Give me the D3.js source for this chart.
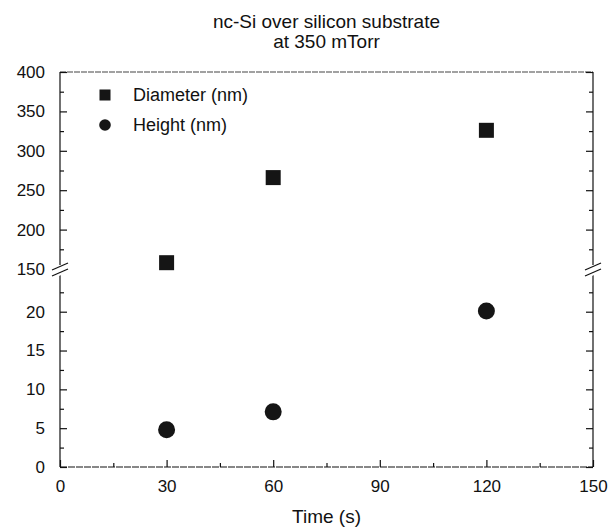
<!DOCTYPE html>
<html>
<head>
<meta charset="utf-8">
<script src="https://cdn.jsdelivr.net/npm/d3@7"></script>
<style>
  body { margin: 0; background: #fff; }
  text { font-family: "Liberation Sans", Arial, Helvetica, sans-serif; fill: #111; }
</style>
</head>
<body>
<div id="chart"></div>
<script>
// data
var times = [30, 60, 120];
var diameter = [158, 266, 326];   // nm, upper segment
var heights = [4.8, 7.1, 20.1];   // nm, lower segment

var xTicks = [0, 30, 60, 90, 120, 150];
var xMinor = [15, 45, 75, 105, 135];
var yUpperTicks = [150, 200, 250, 300, 350, 400];
var yUpperMinor = [175, 225, 275, 325, 375];
var yLowerTicks = [0, 5, 10, 15, 20];
var yLowerMinor = [2.5, 7.5, 12.5, 17.5, 22.5];

var legendLabels = ["Diameter (nm)", "Height (nm)"];
var titleLines = ["nc-Si over silicon substrate", "at 350 mTorr"];

const W = 609, H = 527;
const plotLeft = 60, plotRight = 593, plotTop = 72, plotBottom = 467;
const breakY = 269;

const svg = d3.select("#chart")
  .append("svg")
  .attr("width", W)
  .attr("height", H);

// scales
const x = d3.scaleLinear().domain([0, 150]).range([plotLeft, plotRight]);
const yLow = d3.scaleLinear().domain([0, 25.5]).range([plotBottom, breakY]);
const yUp = d3.scaleLinear().domain([150, 400]).range([breakY, plotTop]);

// frame lines (left / right split at the break)
const frame = svg.append("g").attr("stroke", "#111").attr("stroke-width", 1.2);
frame.append("line").attr("x1", plotLeft).attr("x2", plotRight).attr("y1", plotBottom).attr("y2", plotBottom)
  .attr("stroke-dasharray", "7,1");
frame.append("line").attr("x1", plotLeft).attr("x2", plotRight).attr("y1", plotTop).attr("y2", plotTop)
  .attr("stroke", "#444").attr("stroke-dasharray", "6,1");
[plotLeft, plotRight].forEach(function (px) {
  frame.append("line").attr("x1", px).attr("x2", px).attr("y1", plotTop).attr("y2", breakY - 4);
  frame.append("line").attr("x1", px).attr("x2", px).attr("y1", breakY + 4).attr("y2", plotBottom);
});

// helper for inward axes
function addAxis(axis, tx, ty) {
  const g = svg.append("g")
    .attr("transform", `translate(${tx},${ty})`)
    .call(axis);
  g.select(".domain").remove();
  g.selectAll("line").attr("stroke", "#111").attr("stroke-width", 1.2);
  g.selectAll("text")
    .style("font-size", "17px")
    .style("font-family", "'Liberation Sans', Arial, sans-serif");
  return g;
}

// x axis
addAxis(d3.axisBottom(x).tickValues(xTicks).tickSize(-7).tickPadding(13).tickFormat(d3.format("d")), 0, plotBottom);
addAxis(d3.axisBottom(x).tickValues(xMinor).tickSize(-4).tickFormat(""), 0, plotBottom);

// left y axes
addAxis(d3.axisLeft(yUp).tickValues(yUpperTicks).tickSize(-7).tickPadding(15), plotLeft, 0);
addAxis(d3.axisLeft(yUp).tickValues(yUpperMinor).tickSize(-4).tickFormat(""), plotLeft, 0);
addAxis(d3.axisLeft(yLow).tickValues(yLowerTicks).tickSize(-7).tickPadding(15), plotLeft, 0);
addAxis(d3.axisLeft(yLow).tickValues(yLowerMinor).tickSize(-4).tickFormat(""), plotLeft, 0);

// right side mirrored ticks
addAxis(d3.axisRight(yUp).tickValues(yUpperTicks).tickSize(-7).tickFormat(""), plotRight, 0);
addAxis(d3.axisRight(yUp).tickValues(yUpperMinor).tickSize(-4).tickFormat(""), plotRight, 0);
addAxis(d3.axisRight(yLow).tickValues(yLowerTicks).tickSize(-7).tickFormat(""), plotRight, 0);
addAxis(d3.axisRight(yLow).tickValues(yLowerMinor).tickSize(-4).tickFormat(""), plotRight, 0);

// axis break marks
[plotLeft, plotRight].forEach(function (px) {
  const b = svg.append("g").attr("transform", `translate(${px},${breakY})`);
  b.append("polygon")
    .attr("points", "-8,0 8,-7 8,3 -8,10")
    .attr("fill", "#fff");
  b.append("line").attr("x1", -8).attr("y1", 1).attr("x2", 8).attr("y2", -6)
    .attr("stroke", "#111").attr("stroke-width", 1.2);
  b.append("line").attr("x1", -8).attr("y1", 7).attr("x2", 8).attr("y2", 0)
    .attr("stroke", "#111").attr("stroke-width", 1.2);
});

// markers
const sq = 15;
svg.selectAll(".diam")
  .data(times.map((t, i) => ({ t: t, v: diameter[i] })))
  .enter()
  .append("rect")
  .attr("class", "diam")
  .attr("x", d => x(d.t) - sq / 2)
  .attr("y", d => yUp(d.v) - sq / 2)
  .attr("width", sq)
  .attr("height", sq)
  .attr("fill", "#151515");

svg.selectAll(".hgt")
  .data(times.map((t, i) => ({ t: t, v: heights[i] })))
  .enter()
  .append("circle")
  .attr("class", "hgt")
  .attr("cx", d => x(d.t))
  .attr("cy", d => yLow(d.v))
  .attr("r", 8.5)
  .attr("fill", "#151515");

// legend
const legend = svg.append("g").attr("transform", "translate(105,95)");
legend.append("rect").attr("x", -5.5).attr("y", -5.5).attr("width", 11).attr("height", 11).attr("fill", "#151515");
legend.append("circle").attr("cx", 0).attr("cy", 30).attr("r", 5.8).attr("fill", "#151515");
legend.selectAll(".lg")
  .data(legendLabels)
  .enter()
  .append("text")
  .attr("x", 28)
  .attr("y", (d, i) => i * 30)
  .attr("dy", "0.35em")
  .style("font-size", "18px")
  .text(d => d);

// title
svg.selectAll(".title")
  .data(titleLines)
  .enter()
  .append("text")
  .attr("x", (plotLeft + plotRight) / 2)
  .attr("y", (d, i) => 28 + i * 20)
  .attr("text-anchor", "middle")
  .style("font-size", "19px")
  .text(d => d);

// x label
svg.append("text")
  .attr("x", (plotLeft + plotRight) / 2)
  .attr("y", 523)
  .attr("text-anchor", "middle")
  .style("font-size", "19px")
  .text("Time (s)");
</script>
</body>
</html>
